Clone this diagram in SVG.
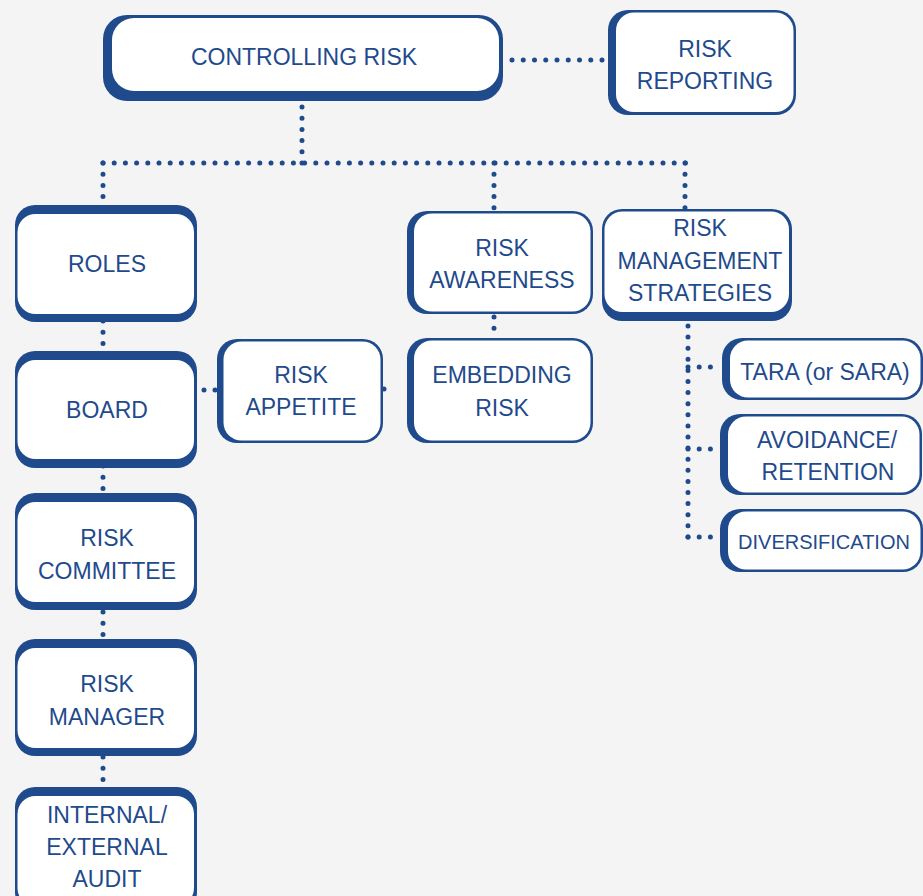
<svg xmlns="http://www.w3.org/2000/svg" width="923" height="896" viewBox="0 0 923 896">
<style>
.bg{fill:#f4f4f4}
.o{fill:#1f4a8c}
.i{fill:#ffffff}
.t{font-family:"Liberation Sans",Arial,sans-serif;font-size:23px;fill:#1f4a8c;text-anchor:middle}
.c{fill:none;stroke:#1f4a8c;stroke-width:5;stroke-linecap:round;stroke-dasharray:0 11.2}
</style>
<rect class="bg" x="0" y="0" width="923" height="896"/>
<g id="connectors">
<path class="c" d="M302,107 V163.5"/>
<path class="c" d="M103,163 H686"/>
<path class="c" d="M103,163 V197.5"/>
<path class="c" d="M494,163 V211"/>
<path class="c" d="M685,163 V209"/>
<path class="c" d="M512,60 H602.5" style="stroke-dasharray:0 11.25"/>
<path class="c" d="M103,321 V351"/>
<path class="c" d="M103,466 V493"/>
<path class="c" d="M103,612 V639"/>
<path class="c" d="M103,757 V787"/>
<path class="c" d="M204,390 H217" style="stroke-dasharray:0 11"/>
<path class="c" d="M384,389 H406" style="stroke-dasharray:0 30"/>
<path class="c" d="M494,317 V338"/>
<path class="c" d="M688,326 V537.5" style="stroke-dasharray:0 11.1"/>
<path class="c" d="M688,367 H720.5"/>
<path class="c" d="M688,449 H720.5"/>
<path class="c" d="M688,537 H720.5"/>
</g>
<g id="controlling-risk">
<rect class="o" x="103" y="15" width="400" height="86" rx="24"/>
<rect class="i" x="112" y="18" width="387" height="73" rx="22"/>
<text class="t" x="304" y="65">CONTROLLING RISK</text>
</g>
<g id="risk-reporting">
<rect class="o" x="608" y="10" width="188" height="105" rx="20"/>
<rect class="i" x="616" y="12.5" width="177.5" height="99.5" rx="18"/>
<text class="t" x="705" y="57">RISK</text>
<text class="t" x="705" y="89">REPORTING</text>
</g>
<g id="roles">
<rect class="o" x="15" y="205" width="182" height="117" rx="20"/>
<rect class="i" x="17.5" y="214" width="176.5" height="100" rx="18"/>
<text class="t" x="107" y="272">ROLES</text>
</g>
<g id="board">
<rect class="o" x="15" y="351" width="182" height="117" rx="20"/>
<rect class="i" x="17.5" y="360" width="176.5" height="99" rx="18"/>
<text class="t" x="107" y="418">BOARD</text>
</g>
<g id="risk-committee">
<rect class="o" x="15" y="493" width="182" height="117" rx="20"/>
<rect class="i" x="17.5" y="502" width="176.5" height="100" rx="18"/>
<text class="t" x="107" y="546">RISK</text>
<text class="t" x="107" y="579">COMMITTEE</text>
</g>
<g id="risk-manager">
<rect class="o" x="15" y="639" width="182" height="117" rx="20"/>
<rect class="i" x="17.5" y="648" width="176.5" height="100" rx="18"/>
<text class="t" x="107" y="692">RISK</text>
<text class="t" x="107" y="725">MANAGER</text>
</g>
<g id="internal-external-audit">
<rect class="o" x="15" y="787" width="182" height="125" rx="20"/>
<rect class="i" x="17.5" y="796" width="176.5" height="110" rx="18"/>
<text class="t" x="107" y="823">INTERNAL/</text>
<text class="t" x="107" y="855">EXTERNAL</text>
<text class="t" x="107" y="887">AUDIT</text>
</g>
<g id="risk-appetite">
<rect class="o" x="217" y="339" width="166" height="104" rx="20"/>
<rect class="i" x="223.5" y="341.5" width="157" height="99" rx="18"/>
<text class="t" x="301" y="383">RISK</text>
<text class="t" x="301" y="415">APPETITE</text>
</g>
<g id="risk-awareness">
<rect class="o" x="407" y="211" width="186" height="103" rx="20"/>
<rect class="i" x="414" y="213.5" width="176.5" height="98" rx="18"/>
<text class="t" x="502" y="256">RISK</text>
<text class="t" x="502" y="288">AWARENESS</text>
</g>
<g id="embedding-risk">
<rect class="o" x="407" y="338" width="186" height="105" rx="20"/>
<rect class="i" x="414" y="340.5" width="176.5" height="100" rx="18"/>
<text class="t" x="502" y="383">EMBEDDING</text>
<text class="t" x="502" y="416">RISK</text>
</g>
<g id="risk-management-strategies">
<rect class="o" x="602" y="209" width="190" height="112" rx="20"/>
<rect class="i" x="604.5" y="211.5" width="184.5" height="100.5" rx="18"/>
<text class="t" x="700" y="236">RISK</text>
<text class="t" x="700" y="269">MANAGEMENT</text>
<text class="t" x="700" y="301">STRATEGIES</text>
</g>
<g id="tara">
<rect class="o" x="722" y="338" width="201" height="62" rx="20"/>
<rect class="i" x="730" y="340.5" width="190.5" height="57" rx="18"/>
<text class="t" x="825" y="380">TARA (or SARA)</text>
</g>
<g id="avoidance-retention">
<rect class="o" x="720" y="414" width="202" height="81" rx="20"/>
<rect class="i" x="728" y="416.5" width="191.5" height="76" rx="18"/>
<text class="t" x="827" y="448">AVOIDANCE/</text>
<text class="t" x="828" y="480">RETENTION</text>
</g>
<g id="diversification">
<rect class="o" x="720" y="509" width="203" height="63" rx="20"/>
<rect class="i" x="728" y="511.5" width="192.5" height="58" rx="18"/>
<text class="t" x="824" y="549" style="font-size:20px">DIVERSIFICATION</text>
</g>
</svg>
